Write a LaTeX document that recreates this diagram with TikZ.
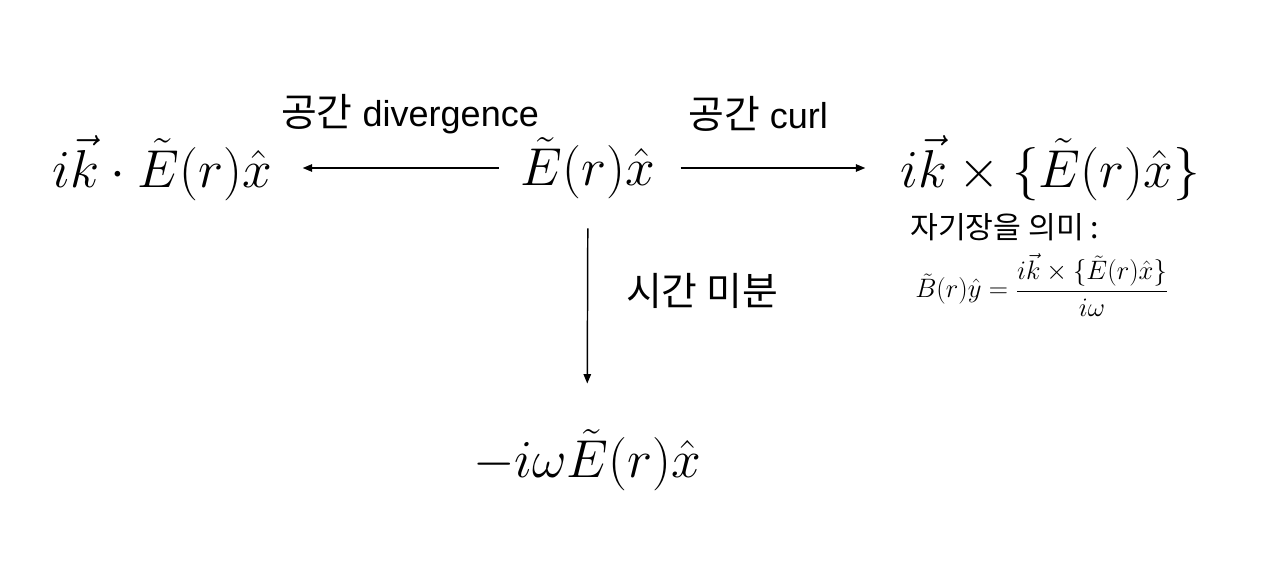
\RequirePackage{fix-cm}
\documentclass[tikz,border=0pt]{standalone}
\usepackage{amsmath}
\usepackage{fontspec}
\setmainfont{Liberation Sans}
\newfontfamily\krfont[Scale=1.08]{Noto Sans CJK KR}
\usetikzlibrary{arrows.meta}

\begin{document}
\begin{tikzpicture}[x=0.75pt,y=0.75pt,yscale=-1,xscale=1,
  eqn/.style={inner sep=0pt,font=\fontsize{40}{48}\selectfont},
  lbl/.style={inner sep=0pt,font=\fontsize{27}{32}\selectfont},
  note/.style={inner sep=0pt,anchor=west,font=\fontsize{21}{25}\selectfont},
  flow/.style={-{Triangle[length=7pt,width=5.5pt]},line width=1.1pt}]
\path[use as bounding box] (0,0) rectangle (1268,585);

% Field and its derivatives
\node[eqn] (efield) at (588,168) {$\tilde{E}(r)\hat{x}$};
\node[eqn] (divg) at (162,168) {$i\vec{k}\cdot\tilde{E}(r)\hat{x}$};
\node[eqn] (curlE) at (1050,168) {$i\vec{k}\times\{\tilde{E}(r)\hat{x}\}$};
\node[eqn] (dtE) at (587,460) {$-i\omega\tilde{E}(r)\hat{x}$};

% Arrows
\draw[flow,shorten <=16.5pt,shorten >=23pt] (efield) -- (divg);
\draw[flow,shorten <=19pt,shorten >=26pt] (efield) -- (curlE);
\draw[flow,shorten <=22pt,shorten >=34pt] (efield) -- (dtE);

% Labels
\node[lbl] (divlbl) at (410,114) {{\krfont 공간} divergence};
\node[lbl] (curllbl) at (758,114) {{\krfont 공간} curl};
\node[lbl] (timelbl) at (702,291) {\krfont 시간 미분};

% Magnetic field note
\node[note] (bnote) at (910,227) {\krfont 자기장을 의미 :};
\node[note,font=\fontsize{20}{24}\selectfont] (bfield) at (915,285)
  {$\displaystyle\tilde{B}(r)\hat{y}=\frac{i\vec{k}\times\{\tilde{E}(r)\hat{x}\}}{i\omega}$};
\end{tikzpicture}
\end{document}
